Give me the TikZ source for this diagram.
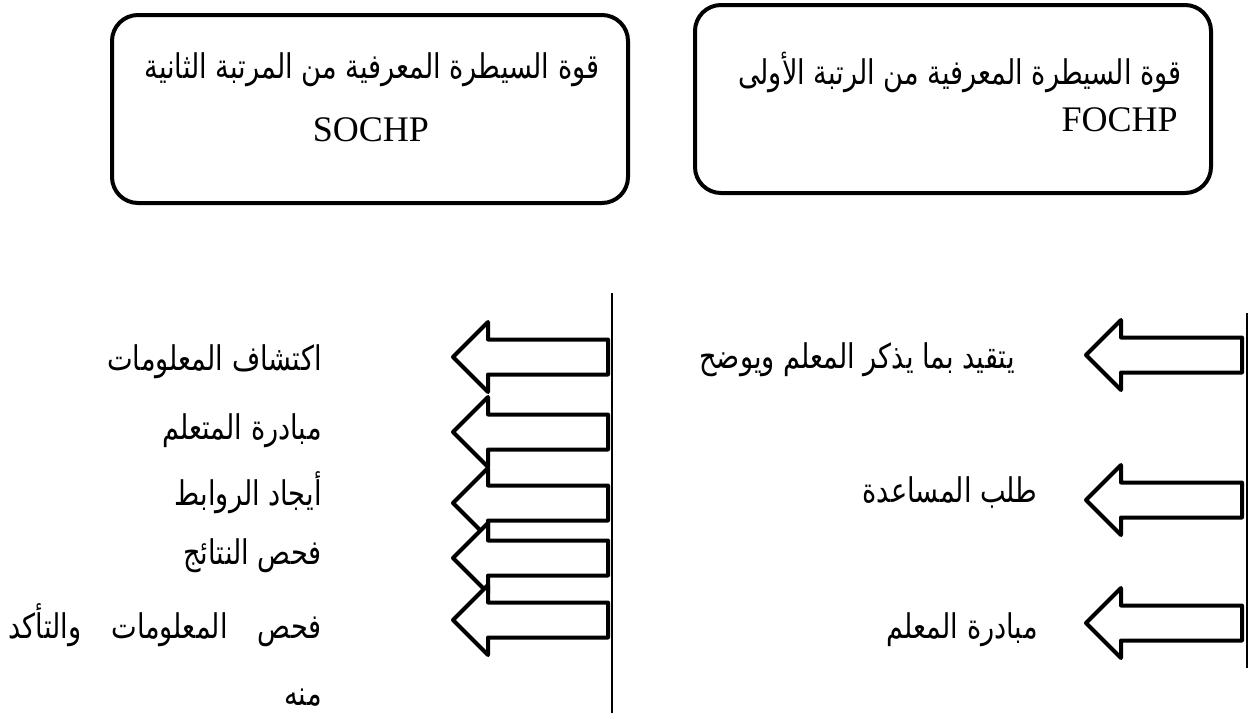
\documentclass[tikz,border=0pt]{standalone}
\usepackage{fontspec}
\setmainfont{Liberation Serif}
\newfontfamily\arabicfont[Script=Arabic, FakeStretch=0.8]{DejaVu Sans}
\TeXXeTstate=1
\begin{document}
\begin{tikzpicture}[x=0.5pt,y=-0.5pt,
  boxnode/.style={draw, line width=2pt, rounded corners=13pt, inner sep=0pt},
  ar/.style={font=\arabicfont\fontsize{17}{20}\selectfont, inner sep=0pt},
  lat/.style={font=\fontsize{18}{21}\selectfont, inner sep=0pt},
  fatarrow/.style={draw, line width=2pt, fill=white, line join=round},
  divider/.style={draw, line width=0.8pt}]
\useasboundingbox (0,0) rectangle (1250,713);
% boxes
\node[boxnode, minimum width=258pt, minimum height=94pt] (so) at (370,109) {};
\node[boxnode, minimum width=258pt, minimum height=94pt] (fo) at (953,99) {};
\node[ar] (sot) at (372,70) {\beginR قوة السيطرة المعرفية من المرتبة الثانية\endR};
\node[lat] (sol) at (371,130) {SOCHP};
\node[ar, anchor=east] (fot) at (1182,72) {\beginR قوة السيطرة المعرفية من الرتبة الأولى\endR};
\node[lat, anchor=east] (fol) at (1178,120) {FOCHP};
% dividers
\coordinate (m1) at (612,293); \coordinate (m2) at (612,713);
\coordinate (r1) at (1247,313); \coordinate (r2) at (1247,668);
\draw[divider] (m1) -- (m2);
\draw[divider] (r1) -- (r2);
% left arrows
\foreach \c in {357,432,503,558,620}{
  \draw[fatarrow] (453,\c) -- (488,\c-35) -- (488,\c-17.5) -- (608,\c-17.5) -- (608,\c+17.5) -- (488,\c+17.5) -- (488,\c+35) -- cycle;
}
% right arrows
\foreach \c in {355,500,623}{
  \draw[fatarrow] (1086,\c) -- (1121,\c-35) -- (1121,\c-17.5) -- (1242,\c-17.5) -- (1242,\c+17.5) -- (1121,\c+17.5) -- (1121,\c+35) -- cycle;
}
% left texts
\node[ar, anchor=east] (l1) at (322,362) {\beginR اكتشاف المعلومات\endR};
\node[ar, anchor=east] (l2) at (322,431) {\beginR مبادرة المتعلم\endR};
\node[ar, anchor=east] (l3) at (322,493) {\beginR أيجاد الروابط\endR};
\node[ar, anchor=east] (l4) at (322,556) {\beginR فحص النتائج\endR};
\node[ar, anchor=east] (l5) at (322,625) {\hbox to 156.5pt{\beginR فحص\hfill المعلومات\hfill والتأكد\endR}};
\node[ar, anchor=east] (l6) at (322,698) {\beginR منه\endR};
% right texts
\node[ar, anchor=east] (t1) at (1015,360) {\beginR يتقيد بما يذكر المعلم ويوضح\endR};
\node[ar, anchor=east] (t2) at (1038,492) {\beginR طلب المساعدة\endR};
\node[ar, anchor=east] (t3) at (1038,630) {\beginR مبادرة المعلم\endR};
\end{tikzpicture}
\end{document}
